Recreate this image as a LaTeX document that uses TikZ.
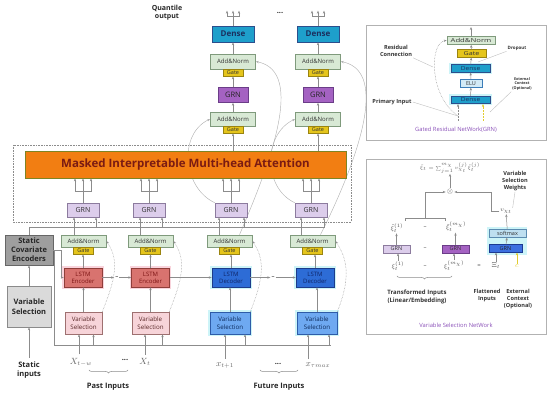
\documentclass[tikz,border=0pt]{standalone}
\usepackage{fontspec}
\setmainfont{Open Sans}
\usepackage{amsmath,graphicx}
\usetikzlibrary{arrows.meta,positioning,calc,decorations.pathreplacing,backgrounds}

\definecolor{cLine}{HTML}{8C8C8C}
\definecolor{cDense}{HTML}{1E9FCB}\definecolor{cDenseB}{HTML}{2C4E8C}\definecolor{cDenseT}{HTML}{1B2F5E}
\definecolor{cAN}{HTML}{D8E9D5}\definecolor{cANB}{HTML}{7F9A7C}
\definecolor{cGate}{HTML}{E5C51C}\definecolor{cGateB}{HTML}{9A8410}
\definecolor{cGrnP}{HTML}{A462C2}\definecolor{cGrnPB}{HTML}{6B3D88}
\definecolor{cGrnL}{HTML}{DCCDEB}\definecolor{cGrnLB}{HTML}{8C7B9E}
\definecolor{cAtt}{HTML}{F27E12}\definecolor{cAttB}{HTML}{7E8424}\definecolor{cAttT}{HTML}{7A1B12}
\definecolor{cEnc}{HTML}{D8736F}\definecolor{cEncB}{HTML}{8F3E3A}\definecolor{cEncT}{HTML}{7D1414}\definecolor{cEncH}{HTML}{F9D4DC}
\definecolor{cDec}{HTML}{2D6CD6}\definecolor{cDecB}{HTML}{1D3C8A}\definecolor{cDecT}{HTML}{0E2466}\definecolor{cHalo}{HTML}{CDF4F8}
\definecolor{cVSp}{HTML}{F7D4D9}\definecolor{cVSpB}{HTML}{9E7070}\definecolor{cVSpT}{HTML}{5A2828}
\definecolor{cVSf}{HTML}{6EA9F1}\definecolor{cVSfB}{HTML}{2E5CA8}\definecolor{cVSfT}{HTML}{0C2A5C}
\definecolor{cSce}{HTML}{9E9E9E}\definecolor{cSceB}{HTML}{666666}
\definecolor{cSvs}{HTML}{DADADA}\definecolor{cSvsB}{HTML}{8A8A8A}
\definecolor{cElu}{HTML}{D3EAF6}\definecolor{cEluB}{HTML}{3C7DB8}
\definecolor{cSoft}{HTML}{BEDFF0}\definecolor{cSoftB}{HTML}{5B8BB0}
\definecolor{cVgrn}{HTML}{3B6FE0}\definecolor{cVgrnB}{HTML}{1C3A92}
\definecolor{cYel}{HTML}{E2CC2E}
\definecolor{cTitle}{HTML}{8A50B8}

\newcommand\fsz[2]{\fontsize{#1}{#2}\selectfont}

\begin{document}
\begin{tikzpicture}[x=1pt,y=-1pt,
    box/.style={draw,inner sep=0pt,align=center,line width=0.6pt},
    halo/.style={preaction={draw=#1,line width=3.5pt}},
    dense/.style={box,fill=cDense,draw=cDenseB,text=cDenseT,minimum width=42,minimum height=16,font={\fsz{8}{9}\bfseries}},
    addnorm/.style={box,fill=cAN,draw=cANB,text=black!80,minimum width=45,minimum height=14,font={\fsz{6}{7}}},
    gatebox/.style={box,fill=cGate,draw=cGateB,text=black!80,minimum width=20,minimum height=6.5,font={\fsz{5.5}{6}}},
    grntop/.style={box,fill=cGrnP,draw=cGrnPB,text=black!85,minimum width=30,minimum height=15,font={\fsz{7.5}{8}}},
    grnlow/.style={box,fill=cGrnL,draw=cGrnLB,text=black!80,minimum width=32,minimum height=14,font={\fsz{7}{8}}},
    lstmenc/.style={box,halo=cEncH,fill=cEnc,draw=cEncB,text=cEncT,minimum width=38,minimum height=19,font={\fsz{6}{7}}},
    lstmdec/.style={box,halo=cHalo,fill=cDec,draw=cDecB,text=cDecT,minimum width=38,minimum height=19,font={\fsz{6}{7}}},
    vspast/.style={box,fill=cVSp,draw=cVSpB,text=cVSpT,minimum width=37,minimum height=22,font={\fsz{6.2}{8}}},
    vsfut/.style={box,halo=cHalo,fill=cVSf,draw=cVSfB,text=cVSfT,minimum width=40,minimum height=22,font={\fsz{6.2}{8}}},
    lab/.style={align=center,text=black!85,font={\fsz{7.5}{9.5}\bfseries}},
    inp/.style={text=black!60,font={\fsz{9}{10}}},
    pbox/.style={box,minimum height=7.5,text=black!80,font={\fsz{5.5}{6}}},
    plab/.style={align=center,text=black!80,inner sep=1pt,font={\fsz{5.6}{7}\bfseries}},
    ptitle/.style={text=cTitle,font={\fsz{5.8}{7}}},
    sym/.style={text=black!70,inner sep=0.5pt,font={\fsz{6}{6}}},
    panel/.style={draw=black!30,line width=0.8pt},
    line/.style={draw=cLine,line width=0.5pt},
    arr/.style={line,->},
    skip/.style={draw=cLine,line width=0.5pt,densely dotted},
    curve/.style={draw=black!30,line width=0.45pt},
    leader/.style={draw=black!25,line width=0.4pt},
    brace/.style={line,decorate,decoration={brace,amplitude=3pt}},
    >={Stealth[length=3pt,width=2.4pt]}
]
\useasboundingbox (0,0) rectangle (550,398);

% static side
\node[box,fill=cSce,draw=cSceB,minimum width=48,minimum height=30,font={\fsz{7.5}{9}\bfseries},text=black!85] (sce) at (29,250) {Static\\Covariate\\Encoders};
\node[box,fill=cSvs,draw=cSvsB,minimum width=44,minimum height=41,font={\fsz{7.5}{10}\bfseries},text=black!85] (svs) at (29,306.5) {Variable\\Selection};
\node[lab] (sin) at (29,370) {Static\\inputs};
\draw[arr] (sin) -- (svs);
\draw[arr] (svs) -- (sce);

% variable selection and lstm
\node[vspast] (vs1) at (83.5,323) {Variable\\Selection};
\node[vspast] (vs2) at (150.5,323) {Variable\\Selection};
\node[vsfut] (vs3) at (230,323) {Variable\\Selection};
\node[vsfut] (vs4) at (317,323) {Variable\\Selection};
\node[lstmenc] (enc1) at (83,277.5) {LSTM\\Encoder};
\node[lstmenc] (enc2) at (150.5,277.5) {LSTM\\Encoder};
\node[lstmdec] (dec1) at (231,277.5) {LSTM\\Decoder};
\node[lstmdec] (dec2) at (315,277.5) {LSTM\\Decoder};

\node[addnorm,minimum height=12] (an1) at (83.5,241) {Add\&Norm};
\node[addnorm,minimum height=12] (an2) at (150.5,241) {Add\&Norm};
\node[addnorm,minimum height=12] (an3) at (229.5,241) {Add\&Norm};
\node[addnorm,minimum height=12] (an4) at (312.5,241) {Add\&Norm};
\node[gatebox,below=0pt of an1] (g1) {Gate};
\node[gatebox,below=0pt of an2] (g2) {Gate};
\node[gatebox,below=0pt of an3] (g3) {Gate};
\node[gatebox,below=0pt of an4] (g4) {Gate};

\node[grnlow] (grn1) at (83,210) {GRN};
\node[grnlow] (grn2) at (149,210) {GRN};
\node[grnlow] (grn3) at (231,210) {GRN};
\node[grnlow] (grn4) at (311,210) {GRN};

% inputs
\node[inp] (x1) at (81,362) {$X_{t-w}$};
\node[inp] (x2) at (145,362) {$X_t$};
\node[inp] (x3) at (225,365) {$x_{t+1}$};
\node[inp] (x4) at (318,365) {$x_{\tau max}$};
\node[lab] (pdots) at (125,360) {...};
\node[lab] (fdots) at (278,364) {...};
\draw[brace] (128,370) -- (89,370);
\draw[brace] (298,370) -- (260,370);
\node[lab] (past) at (108,387) {Past Inputs};
\node[lab] (fut) at (279,387) {Future Inputs};

\draw[arr] ([xshift=-2pt]x1.north) -- ([xshift=-2pt]x1.north |- vs1.south);
\draw[arr] (x2.north) -- (x2.north |- vs2.south);
\draw[arr] (x3.north) -- (x3.north |- vs3.south);
\draw[arr] ([xshift=-10pt]x4.north) -- ([xshift=-10pt]x4.north |- vs4.south);

% static contexts
\draw[line] (sce.east) -| (54,345) -- (331,345);
\draw[arr] ($(vs1.south)+(10,11)$) -- ++(0,-11);
\draw[arr] ($(vs2.south)+(12,11)$) -- ++(0,-11);
\draw[arr] ($(vs3.south)+(15,11)$) -- ++(0,-11);
\draw[arr] ($(vs4.south)+(12,11)$) -- ++(0,-11);
\draw[arr] (sce.east) -- ++(8,0) |- (enc1.west);
\draw[line] (sce.north) |- (325,227);
\foreach \g in {grn1,grn2,grn3,grn4}
  \draw[arr] ($(\g.south)+(13,10)$) -- ++(0,-10);

% vertical flow
\foreach \v/\l/\a/\g in {vs1/enc1/an1/g1,vs2/enc2/an2/g2,vs3/dec1/an3/g3,vs4/dec2/an4/g4}{
  \draw[arr] (\v.north) -- (\v.north |- \l.south);
  \draw[arr] (\l.north) -- (\l.north |- \g.south);
}
\draw[arr] ($(grn1.south)+(-9,18)$) -- ($(grn1.south)+(-9,0)$);
\draw[arr] ($(grn2.south)+(-9,18)$) -- ($(grn2.south)+(-9,0)$);
\draw[arr] ($(grn3.south)+(-12,18)$) -- ($(grn3.south)+(-12,0)$);
\draw[arr] ($(grn4.south)+(-10,18)$) -- ($(grn4.south)+(-10,0)$);

% lstm chain
\path (enc1.east) -- node[inner sep=1pt,font={\fsz{6}{6}}] (d1) {--} (enc2.west);
\path (dec1.east) -- node[inner sep=1pt,font={\fsz{6}{6}}] (d2) {--} (dec2.west);
\draw[arr] (enc1.east) -- (d1.west);
\draw[arr] (d1.east) -- (enc2.west);
\draw[arr] (enc2) -- (dec1);
\draw[arr] (dec1.east) -- (d2.west);
\draw[arr] (d2.east) -- (dec2.west);

% attention
\draw[draw=black!45,densely dotted,line width=0.6pt] (13,145) rectangle (351,222);
\node[box,fill=cAtt,draw=cAttB,line width=0.8pt,text=cAttT,minimum width=321,minimum height=27,font={\fsz{11.5}{12}\bfseries}] (att) at (185.5,164.5) {Masked Interpretable Multi-head Attention};
\foreach \g in {grn1,grn2,grn3,grn4}{
  \draw[line] (\g.north) -- ++(0,-11) ++(-8,0) -- ++(16,0);
  \foreach \dx in {-8,0,8}
    \draw[arr] ($(\g.north)+(\dx,-11)$) -- ($(att.south -| \g.north)+(\dx,0)$);
}

% decoder top
\node[addnorm] (an3m) at (233,119) {Add\&Norm};
\node[gatebox,below=0pt of an3m] (g3m) {Gate};
\node[grntop] (grn3t) at (233,95) {GRN};
\node[addnorm,minimum height=15] (an3t) at (233,61.5) {Add\&Norm};
\node[gatebox,below=0pt of an3t] (g3t) {Gate};
\node[dense] (dense3) at (233,34) {Dense};
\node[addnorm] (an4m) at (318,119) {Add\&Norm};
\node[gatebox,below=0pt of an4m] (g4m) {Gate};
\node[grntop] (grn4t) at (318,95) {GRN};
\node[addnorm,minimum height=15] (an4t) at (318,61.5) {Add\&Norm};
\node[gatebox,below=0pt of an4t] (g4t) {Gate};
\node[dense] (dense4) at (318,34) {Dense};
\node[lab,font={\fsz{7}{8.5}\bfseries}] (qout) at (167,12.5) {Quantile\\output};
\node[lab] (qdots) at (280,13) {...};

\foreach \c in {3,4}{
  \draw[arr] (att.north -| g\c m.south) -- (g\c m.south);
  \draw[arr] (an\c m.north) -- (grn\c t.south);
  \draw[arr] (grn\c t.north) -- (g\c t.south);
  \draw[arr] (an\c t.north) -- (dense\c.south);
  \draw[line] (dense\c.north) -- ++(0,-9) ++(-6,0) -- ++(12,0);
  \foreach \dx in {-6,0,6}
    \draw[arr] ($(dense\c.north)+(\dx,-9)$) -- ++(0,-6);
}

% skip connections
\begin{scope}[on background layer]
\draw[curve,->] ($(an3.north)+(10,0)$) .. controls +(30,-70) and +(50,10) .. (an3t.east);
\draw[curve,->] ($(an4.north)+(8,0)$) .. controls +(35,-70) and +(50,10) .. (an4t.east);
\draw[curve,->] (grn3.north west) .. controls +(-32,-15) and +(-32,15) .. (an3m.west);
\draw[curve,->] (grn4.north west) .. controls +(-32,-15) and +(-32,15) .. (an4m.west);
\end{scope}
\draw[skip,->] (vs1.north east) .. controls +(12,-30) and +(14,20) .. (an1.east);
\draw[skip,->] (vs2.north east) .. controls +(12,-30) and +(14,20) .. (an2.east);
\draw[skip,->] (vs3.north east) .. controls +(12,-30) and +(14,20) .. (an3.east);
\draw[skip,->] (vs4.north east) .. controls +(12,-30) and +(14,20) .. (an4.east);

% GRN panel
\draw[panel] (366,25) rectangle (546,140);
\node[pbox,fill=cAN,draw=cANB,minimum width=48,minimum height=8] (pan) at (471,40.5) {\scalebox{1.4}[1]{Add\&Norm}};
\node[pbox,fill=cGate,draw=cGateB,minimum width=29] (pgate) at (471.5,53.5) {\scalebox{1.3}[1]{Gate}};
\node[pbox,halo=cHalo,fill=cDense,draw=cDenseB,text=cDenseT,minimum width=39] (pdense2) at (470.5,68.5) {\scalebox{1.2}[1]{Dense}};
\node[pbox,fill=cElu,draw=cEluB,minimum width=22] (pelu) at (471,83.5) {ELU};
\node[pbox,halo=cHalo,fill=cDense,draw=cDenseB,text=cDenseT,minimum width=39] (pdense1) at (470.5,100) {\scalebox{1.2}[1]{Dense}};
\coordinate (pout) at (471,27);
\coordinate (pin) at (458,121);
\coordinate (pext) at (483,121);
\draw[arr] (pdense1) -- (pelu);
\draw[arr] (pelu) -- (pdense2);
\draw[arr] (pdense2) -- (pgate);
\draw[arr] (pgate) -- (pan);
\draw[arr] (pan) -- (pout);
\draw[skip,->] (pin) -- (pin |- pdense1.south);
\draw[draw=cYel,line width=0.5pt,densely dotted,->] (pext) -- (pext |- pdense1.south);
\draw[skip,->] ($(pin)+(0,-5)$) .. controls (428,95) and (430,42) .. (pan.west);
\node[plab] (lres) at (396,51) {Residual\\Connection};
\node[plab] (lpin) at (392,102) {Primary Input};
\node[plab,font={\fsz{4.5}{5}\bfseries}] (ldrop) at (517,48) {Dropout};
\node[plab,font={\fsz{3.8}{4.6}\bfseries}] (lext) at (522,84) {External\\Context\\(Optional)};
\draw[leader] (lres.south east) -- (433,67);
\draw[leader] (lpin.east) -- ($(pin)+(0,-5)$);
\draw[leader] (ldrop.south west) -- (478,62);
\draw[leader] (lext.south west) -- (490,112);
\node[ptitle] (tgrn) at (456,130) {Gated Residual NetWork(GRN)};

% variable selection panel
\draw[panel] (366,159) rectangle (546,334);
\fill[cHalo] (487,227) rectangle (527,255);
\node[pbox,fill=cSoft,draw=cSoftB,minimum width=37] (soft) at (507.5,233.5) {softmax};
\node[pbox,fill=cVgrn,draw=cVgrnB,text=black!85,minimum width=33] (vgrn) at (505.5,248.5) {GRN};
\node[text=black!60,inner sep=0.5pt,font={\fsz{4.5}{5}}] (form) at (450,168) {$\tilde{\xi}_t=\sum_{j=1}^{m_\chi}v_{\chi_t}^{(j)}\tilde{\xi}_t^{(j)}$};
\node[text=black!60,inner sep=1pt,font={\fsz{7}{7}}] (otim) at (450,192) {$\otimes$};
\node[sym] (vchi) at (506,211) {$v_{\chi_t}$};
\node[sym,font={\fsz{7}{7}}] (Xi) at (496,266) {$\Xi_t$};
\node[sym,text=cYel,font={\fsz{7}{7}}] (cc) at (517,266) {$c$};
\node[sym] (eq) at (479,266) {=};
\draw[arr] (otim) -- (form);
\draw[arr] (vgrn) -- (soft);
\draw[arr] (soft) -- (vchi);
\draw[arr] (vchi.west) -- ++(-8,0) |- (otim.east);
\draw[arr] (Xi) -- (Xi |- vgrn.south);
\draw[draw=cYel,line width=0.5pt,->] (cc) -- (cc |- vgrn.south);
\node[plab] (lw) at (515,181) {Variable\\Selection\\Weights};
\draw[leader] (lw.south) -- (vchi.north east);

\node[pbox,fill=cGrnL,draw=cGrnLB,minimum width=27,minimum height=8] (ga) at (396.5,249) {GRN};
\node[pbox,fill=cGrnP,draw=cGrnPB,minimum width=27,minimum height=8] (gb) at (455.5,249) {GRN};
\node[sym] (dm) at (425,249) {--};
\node[sym] (dt) at (425,228) {--};
\node[sym] (db) at (425,267) {--};
\node[sym] (xt1) at (397,228) {$\tilde{\xi}_t^{(1)}$};
\node[sym] (xtm) at (456,227) {$\tilde{\xi}_t^{(m_\chi)}$};
\node[sym] (xi1) at (398,266) {$\xi_t^{(1)}$};
\node[sym] (xim) at (454,266) {$\xi_t^{(m_\chi)}$};
\draw[arr] (xi1) -- (xi1 |- ga.south);
\draw[arr] (ga) -- (ga |- xt1.south);
\draw[arr] (xim) -- (xim |- gb.south);
\draw[arr] (gb) -- (gb |- xtm.south);
\coordinate (br) at (425,218);
\draw[line] (405,221) -- (405,218) -- (445,218) -- (445,221);
\draw[arr] (br) |- (otim.west);
\draw[brace] (452,276) -- (397,276);
\node[plab,font={\fsz{6}{7.5}\bfseries}] (ltr) at (417,297) {Transformed Inputs\\(Linear/Embedding)};
\node[plab] (lflat) at (487,296) {Flattened\\Inputs};
\node[plab] (lext2) at (518,299) {External\\Context\\(Optional)};
\node[ptitle] (tvsn) at (456,325) {Variable Selection NetWork};
\end{tikzpicture}
\end{document}
